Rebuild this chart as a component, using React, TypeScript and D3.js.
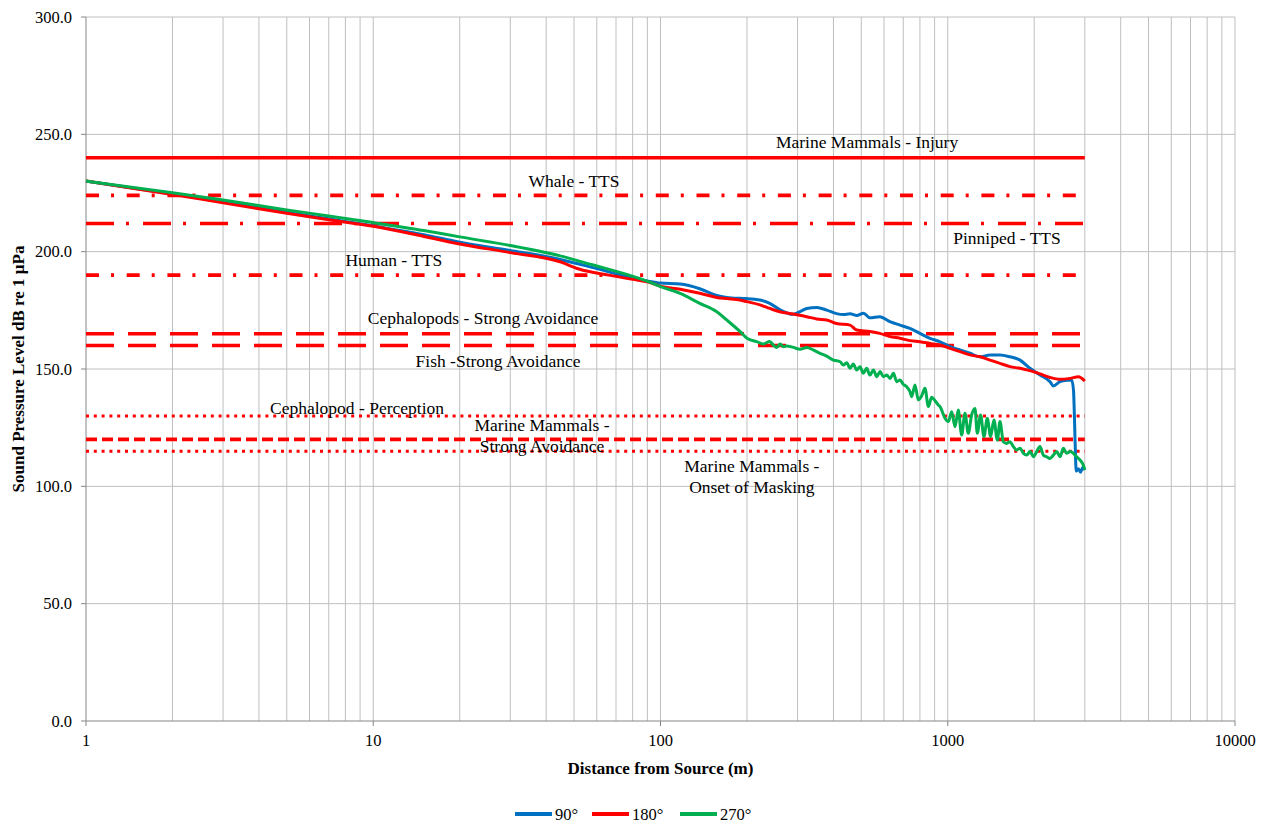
import React from "react";
import * as d3 from "d3";

// ---------- Data ----------
const xTickLabels = ["1", "10", "100", "1000", "10000"];
const xTickValues = [1, 10, 100, 1000, 10000];
const yTickValues = [0, 50, 100, 150, 200, 250, 300];

const seriesNames = ["90°", "180°", "270°"];
const seriesColors = ["#0070C0", "#FF0000", "#00B050"];

const dist90 = [1, 2, 3, 5, 7, 10, 15, 20, 30, 44.7, 58.3, 76.3, 90.7, 100, 117, 137, 157, 170, 189, 200, 222, 240, 260, 289, 310, 323, 350, 379, 410, 433, 457, 482, 509, 536, 580, 629, 682, 738, 800, 867, 940, 1018, 1104, 1195, 1295, 1403, 1520, 1647, 1785, 1933, 2095, 2270, 2330, 2460, 2600, 2700, 2740, 2760, 2780, 2800, 2850, 2900, 2950, 3000];
const spl90 = [230.1, 224.6, 221.3, 216.8, 214.0, 211.0, 207.2, 204.0, 200.5, 196.7, 193.2, 189.4, 187.4, 186.6, 186.2, 184.2, 181.3, 180.5, 180.1, 180.0, 179.4, 178.0, 175.3, 173.3, 174.8, 175.8, 176.2, 175.1, 173.6, 173.2, 173.5, 172.8, 173.8, 171.8, 172.3, 170.2, 168.7, 167.3, 165.2, 163.1, 161.6, 159.5, 158.1, 156.7, 155.2, 156.0, 156.0, 155.2, 153.8, 150.3, 147.4, 144.6, 142.8, 144.6, 145.2, 145.3, 141.0, 130.0, 116.0, 106.5, 107.5, 106.0, 108.0, 107.0];

const dist180 = [1, 2, 3, 5, 7, 10, 15, 20, 30, 44.7, 52, 66, 80, 90.7, 100, 117, 137, 157, 170, 189, 200, 222, 240, 260, 289, 323, 350, 379, 410, 457, 482, 536, 580, 629, 682, 738, 800, 867, 940, 1018, 1104, 1195, 1295, 1403, 1520, 1647, 1785, 1933, 2095, 2270, 2460, 2667, 2850, 3000];
const spl180 = [230.1, 224.4, 220.8, 216.4, 213.6, 210.8, 206.5, 203.3, 199.6, 195.7, 192.6, 190.0, 188.2, 187.1, 185.3, 184.0, 182.3, 180.5, 180.0, 179.4, 178.7, 177.3, 175.8, 174.4, 173.4, 172.3, 171.3, 170.9, 169.4, 168.7, 166.6, 166.0, 165.2, 163.8, 163.1, 162.1, 161.6, 160.9, 160.2, 158.8, 157.4, 156.0, 155.2, 153.8, 152.4, 151.0, 150.3, 149.3, 147.9, 146.4, 145.6, 146.0, 146.7, 144.9];

const dist270 = [1, 2, 3, 5, 7, 10, 15, 20, 30, 44.7, 58.3, 76.3, 90.7, 100, 117, 137, 157, 170, 189, 200, 216, 228, 240, 247, 254, 261, 268, 275, 290, 306, 323, 340, 359, 379, 400, 422, 433, 445, 457, 469, 482, 495, 508, 522, 536, 551, 566, 581, 597, 613, 630, 647, 664, 682, 700, 719, 739, 749, 769, 790, 811, 833, 856, 879, 903, 927, 940, 978, 1005, 1032, 1060, 1088, 1118, 1148, 1179, 1211, 1244, 1267, 1301, 1337, 1373, 1410, 1448, 1488, 1520, 1561, 1603, 1647, 1692, 1738, 1785, 1833, 1883, 1934, 1987, 2040, 2095, 2152, 2210, 2270, 2332, 2395, 2459, 2526, 2594, 2664, 2736, 2810, 2886, 2964, 3000];
const spl270 = [230.1, 225.1, 222.0, 217.8, 215.2, 212.4, 209.0, 206.3, 202.6, 198.2, 194.3, 190.3, 187.2, 185.1, 182.2, 178.0, 174.4, 170.9, 166.0, 163.1, 161.7, 160.7, 161.7, 160.2, 159.2, 160.7, 159.5, 159.8, 159.2, 158.4, 159.2, 158.1, 156.7, 155.5, 153.8, 153.1, 151.7, 152.7, 150.3, 152.1, 149.6, 151.0, 148.2, 150.3, 147.4, 149.6, 146.7, 148.9, 146.7, 147.4, 146.0, 148.2, 144.6, 145.3, 143.5, 142.5, 140.3, 138.2, 143.2, 136.8, 138.5, 141.8, 134.0, 138.0, 136.5, 134.7, 134.0, 129.0, 127.6, 131.8, 125.4, 132.5, 121.9, 131.1, 122.6, 130.4, 133.2, 122.6, 130.4, 121.2, 129.0, 121.2, 128.3, 119.7, 127.6, 119.0, 118.3, 119.0, 116.9, 115.5, 116.2, 114.1, 113.3, 114.8, 112.6, 114.8, 117.0, 113.3, 112.6, 111.9, 113.3, 114.8, 112.6, 116.2, 114.1, 114.8, 114.1, 112.6, 111.2, 109.1, 107.0];

const thresholdNames = [
  "Marine Mammals - Injury",
  "Whale - TTS",
  "Pinniped - TTS",
  "Human - TTS",
  "Cephalopods - Strong Avoidance",
  "Fish -Strong Avoidance",
  "Cephalopod - Perception",
  "Marine Mammals - Strong Avoidance",
  "Marine Mammals - Onset of Masking",
];
const thresholdLevels = [240, 224, 212, 190, 165, 160, 130, 120, 115];
const thresholdStart = 1;
const thresholdEnd = 3000;

// label lines and anchor points (distance, dB of first baseline)
const labelLines = [
  ["Marine Mammals - Injury"],
  ["Whale - TTS"],
  ["Pinniped - TTS"],
  ["Human - TTS"],
  ["Cephalopods - Strong Avoidance"],
  ["Fish -Strong Avoidance"],
  ["Cephalopod - Perception"],
  ["Marine Mammals -", "Strong Avoidance"],
  ["Marine Mammals -", "Onset of Masking"],
];
const labelDist = [523.6, 50, 1608, 11.8, 24.1, 27.2, 8.78, 38.7, 208];
const labelDb = [244.2, 227.4, 203.3, 193.9, 169.0, 150.9, 130.8, 123.6, 106.1];

// ---------- Layout / style ----------
const W = 1266;
const H = 826;
const L = 86, R = 1235, T = 17, B = 721;
const FONT = "'Liberation Serif', 'Times New Roman', serif";

const dashStyles = [
  { dash: "", w: 3.6 },
  { dash: "13 12 3 12.7", w: 3.6 },
  { dash: "28 12 3 14", w: 3.6 },
  { dash: "13 12 3 12.7", w: 3.6 },
  { dash: "28 14", w: 3.6 },
  { dash: "28 14", w: 3.6 },
  { dash: "3 4.8", w: 3 },
  { dash: "11 5", w: 3.6 },
  { dash: "3 4.8", w: 3 },
];

export default function App() {
  const x = d3.scaleLog().domain([1, 10000]).range([L, R]);
  const y = d3.scaleLinear().domain([0, 300]).range([B, T]);

  const minor: number[] = [];
  [1, 10, 100, 1000].forEach((d) => {
    for (let k = 2; k <= 10; k++) minor.push(d * k);
  });

  const line = d3
    .line<[number, number]>()
    .x((p) => x(p[0]))
    .y((p) => y(p[1]))
    .curve(d3.curveMonotoneX);

  const series = [
    dist90.map((d, i) => [d, spl90[i]] as [number, number]),
    dist180.map((d, i) => [d, spl180[i]] as [number, number]),
    dist270.map((d, i) => [d, spl270[i]] as [number, number]),
  ];

  const legendX = [515, 592, 680];

  return (
    <svg
      width={W}
      height={H}
      style={{ position: "absolute", left: 0, top: 0, background: "#fff" }}
      fontFamily={FONT}
    >
      <rect x={0} y={0} width={W} height={H} fill="#fff" />
      {/* vertical gridlines */}
      {minor.map((v) => (
        <line key={"vx" + v} x1={x(v)} x2={x(v)} y1={T} y2={B} stroke="#BFBFBF" strokeWidth={1} />
      ))}
      {/* horizontal gridlines */}
      {yTickValues.filter((v) => v > 0).map((v) => (
        <line key={"hy" + v} x1={L} x2={R} y1={y(v)} y2={y(v)} stroke="#BFBFBF" strokeWidth={1} />
      ))}
      {/* axes */}
      <line x1={L} x2={L} y1={T} y2={B} stroke="#868686" strokeWidth={1} />
      <line x1={L} x2={R} y1={B} y2={B} stroke="#868686" strokeWidth={1} />
      {yTickValues.map((v) => (
        <line key={"yt" + v} x1={L - 5} x2={L} y1={y(v)} y2={y(v)} stroke="#868686" />
      ))}
      {xTickValues.map((v) => (
        <line key={"xt" + v} x1={x(v)} x2={x(v)} y1={B} y2={B + 5} stroke="#868686" />
      ))}
      {yTickValues.map((v) => (
        <text key={"yl" + v} x={L - 14} y={y(v)} dy="0.35em" textAnchor="end" fontSize={16.5} fill="#000">
          {v.toFixed(1)}
        </text>
      ))}
      {xTickValues.map((v, i) => (
        <text key={"xl" + v} x={x(v)} y={746} textAnchor="middle" fontSize={16.5} fill="#000">
          {xTickLabels[i]}
        </text>
      ))}
      {/* axis titles */}
      <text x={(L + R) / 2} y={774} textAnchor="middle" fontSize={17} fontWeight="bold">
        Distance from Source (m)
      </text>
      <text transform={`translate(24,${(T + B) / 2}) rotate(-90)`} textAnchor="middle" fontSize={17} fontWeight="bold">
        Sound Pressure Level dB re 1 µPa
      </text>

      {/* threshold lines */}
      {thresholdLevels.map((lv, i) => (
        <line
          key={"th" + i}
          x1={x(thresholdStart)}
          x2={x(thresholdEnd)}
          y1={y(lv)}
          y2={y(lv)}
          stroke="#FF0000"
          strokeWidth={dashStyles[i].w}
          strokeDasharray={dashStyles[i].dash || undefined}
        />
      ))}

      {/* series */}
      {series.map((s, i) => (
        <path key={"s" + i} d={line(s) || ""} fill="none" stroke={seriesColors[i]} strokeWidth={3} strokeLinejoin="round" />
      ))}

      {/* threshold labels */}
      {labelLines.map((lines, i) => (
        <text key={"lab" + i} x={x(labelDist[i])} y={y(labelDb[i])} textAnchor="middle" fontSize={17.5} fill="#000">
          {lines.map((t, j) => (
            <tspan key={j} x={x(labelDist[i])} dy={j === 0 ? 0 : 21}>
              {t}
            </tspan>
          ))}
        </text>
      ))}

      {/* legend */}
      {seriesNames.map((n, i) => (
        <g key={"lg" + i}>
          <line x1={legendX[i]} x2={legendX[i] + 37} y1={814} y2={814} stroke={seriesColors[i]} strokeWidth={4} />
          <text x={legendX[i] + 40} y={820} fontSize={16.5} fill="#000">
            {n}
          </text>
        </g>
      ))}
    </svg>
  );
}
